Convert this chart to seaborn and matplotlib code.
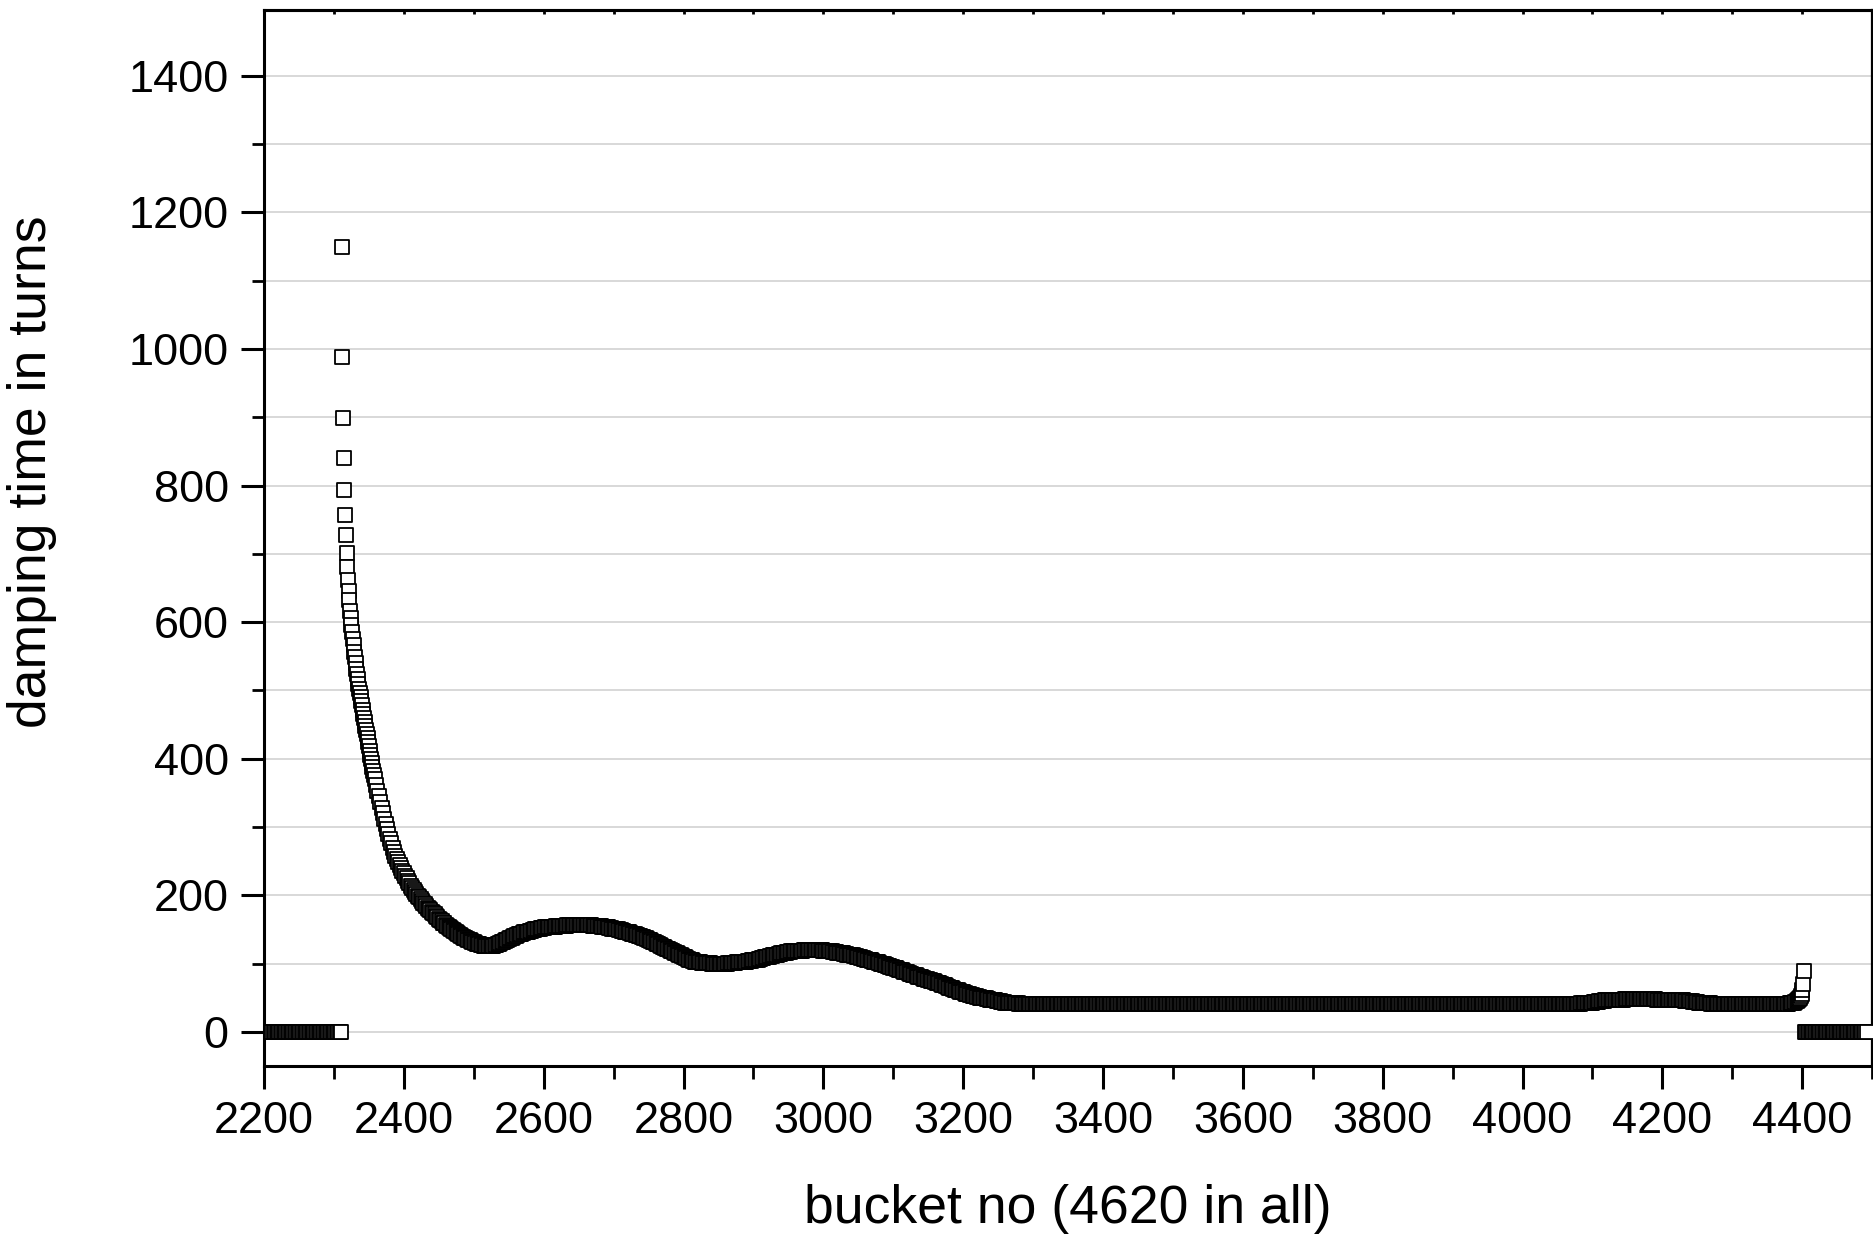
import matplotlib
matplotlib.use('Agg')
import matplotlib.pyplot as plt
from matplotlib.ticker import MultipleLocator
import pandas as pd
import seaborn as sns

# empty buckets before the train
zero_left_x = list(range(2200, 2311, 2))
zero_left_y = [0] * len(zero_left_x)

# head of the train, one value per bucket
spike_x = list(range(2311, 2359))
spike_y = [1150, 988, 899, 840, 794, 757, 727, 702, 681, 662,
           646, 632, 617, 606, 596, 585, 576, 566, 557, 549,
           540, 532, 524, 517, 509, 502, 496, 490, 484, 478,
           472, 466, 460, 454, 448, 442, 436, 430, 424, 418,
           412, 406, 400, 394, 388, 382, 376, 370]

# decay and wiggles, every 2nd bucket from 2360
decay_y = [362, 353, 345, 336, 328, 320, 312, 305, 297, 290,
           283, 277, 270, 264, 258, 253, 249, 244, 240, 236,
           232, 228, 225, 221, 218, 214, 211, 208, 205, 202,
           199, 197, 194, 192, 189, 187, 185, 182, 180, 178,
           176, 174, 172, 170, 168, 166, 164, 162, 160, 159,
           157, 155, 154, 152, 151, 149, 148, 146, 145, 143,
           142, 141, 139, 138, 137, 136, 135, 134, 133, 132,
           131, 130, 129, 129, 128, 127, 127, 126, 126, 126,
           126, 126, 126, 126, 126, 127, 127, 128, 129, 130,
           131, 132, 133, 134, 135, 136, 137, 138, 139, 140,
           141, 142, 143, 143, 144, 145, 146, 146, 147, 147,
           148, 148, 149, 149, 150, 150, 151, 151, 152, 152,
           152, 153, 153, 153, 153, 154, 154, 154, 154, 155,
           155, 155, 155, 155, 155, 155, 155, 156, 156, 156,
           156, 156, 156, 156, 156, 156, 156, 156, 156, 156,
           156, 156, 156, 156, 156, 155, 155, 155, 155, 155,
           155, 155, 154, 154, 154, 153, 153, 152, 152, 151,
           151, 151, 150, 150, 149, 149, 148, 148, 147, 147,
           146, 146, 145, 144, 144, 143, 142, 142, 141, 140,
           139, 139, 138, 137, 136, 135, 134, 133, 132, 131,
           130, 129, 128, 127, 126, 125, 124, 123, 122, 121,
           120, 119, 118, 117, 116, 115, 114, 113, 112, 111,
           110, 109, 108, 107, 106, 105, 105, 104, 103, 103,
           102, 102, 102, 101, 101, 101, 101, 101, 101, 101,
           100, 100, 100, 100, 100, 100, 100, 100, 100, 100,
           100, 100, 101, 101, 101, 101, 101, 101, 102, 102,
           102, 102, 103, 103, 103, 103, 104, 104, 104, 105,
           105, 105, 106, 106, 107, 107, 108, 108, 109, 109,
           110, 110, 111, 111, 112, 112, 113, 113, 114, 114,
           115, 115, 116, 116, 117, 117, 117, 118, 118, 118,
           118, 119, 119, 119, 119, 119, 120, 120, 120, 120,
           120, 120, 120, 120, 120, 120, 120, 120, 120, 120,
           119, 119, 119, 119, 118, 118, 118, 117, 117, 117,
           116, 116, 116, 115, 115, 114, 114, 113, 113, 112,
           112, 112, 111, 111, 110, 109, 109, 108, 108, 107,
           107, 106, 106, 105, 105, 104, 103, 103, 102, 102,
           101, 100, 100, 99, 98, 98, 97, 96, 95, 95,
           94, 93, 93, 92, 91, 91, 90, 89, 88, 88,
           87, 86, 85, 85, 84, 83, 83, 82, 81, 80,
           80, 79, 78, 78, 77, 76, 76, 75, 74, 74,
           73, 72, 71, 71, 70, 69, 68, 68, 67, 66,
           65, 64, 64, 63, 62, 61, 61, 60, 59, 58,
           58, 57, 56, 56, 55, 54, 54, 53, 52, 52,
           51, 51, 50, 50, 49, 49, 49, 48, 48, 47,
           47, 46, 46, 46, 45, 45, 45, 44, 44, 44,
           43, 43, 43, 43, 43, 42, 42, 42, 42, 42,
           41, 41, 41, 41, 41]
decay_x = list(range(2360, 2360 + 2 * len(decay_y), 2))

# long plateau
flat1_x = list(range(3290, 4080, 2))
flat1_y = [41] * len(flat1_x)

# small hump near 4180
hump_y = [41, 41, 42, 42, 42, 42, 43, 43, 43, 43,
          43, 44, 44, 44, 44, 45, 45, 45, 45, 46,
          46, 46, 46, 46, 47, 47, 47, 47, 47, 47,
          47, 47, 47, 48, 48, 48, 48, 48, 48, 48,
          48, 48, 48, 48, 48, 48, 48, 48, 48, 48,
          48, 48, 48, 48, 48, 48, 47, 47, 47, 47,
          47, 47, 47, 47, 47, 47, 46, 46, 46, 46,
          46, 46, 46, 46, 46, 46, 45, 45, 45, 45,
          45, 45, 44, 44, 44, 44, 43, 43, 43, 43,
          42, 42, 42, 42, 42, 41, 41, 41, 41, 41]
hump_x = list(range(4080, 4080 + 2 * len(hump_y), 2))

flat2_x = list(range(4280, 4380, 2))
flat2_y = [41] * len(flat2_x)

# tail of the train
rise_x = [4380, 4382, 4384, 4386, 4388, 4390, 4392, 4394, 4396, 4397,
          4398, 4399, 4400, 4401, 4402]
rise_y = [41, 42, 42, 43, 43, 44, 45, 46, 48, 50, 52, 56, 62, 70, 89]

# empty buckets after the train
zero_right_x = list(range(4404, 4493, 2))
zero_right_y = [0] * len(zero_right_x)

xs = (zero_left_x + spike_x + decay_x + flat1_x + hump_x + flat2_x
      + rise_x + zero_right_x)
ys = (zero_left_y + spike_y + decay_y + flat1_y + hump_y + flat2_y
      + rise_y + zero_right_y)
df = pd.DataFrame({'bucket': xs, 'tau': ys})

sns.set_style('ticks')
plt.rcParams['font.family'] = ['Liberation Sans', 'DejaVu Sans']
plt.rcParams['text.color'] = 'black'
plt.rcParams['axes.labelcolor'] = 'black'
plt.rcParams['xtick.color'] = 'black'
plt.rcParams['ytick.color'] = 'black'

fig = plt.figure(figsize=(18.74, 12.39), dpi=100)
ax = fig.add_axes([0.1409, 0.1396, 0.8581, 0.8526])

sns.scatterplot(data=df, x='bucket', y='tau', marker='s', s=88,
                linewidth=1.3, ax=ax, zorder=3, legend=False)
pts = ax.collections[0]
pts.set_facecolor('white')
pts.set_edgecolor('black')

ax.set_xlim(2200, 4500)
ax.set_ylim(-50, 1497)
ax.xaxis.set_major_locator(MultipleLocator(200))
ax.xaxis.set_minor_locator(MultipleLocator(100))
ax.yaxis.set_major_locator(MultipleLocator(200))
ax.yaxis.set_minor_locator(MultipleLocator(100))

ax.set_axisbelow(True)
ax.yaxis.grid(True, which='both', color='#d2d2d2', linewidth=1.2)
ax.xaxis.grid(False)

for sp in ax.spines.values():
    sp.set_linewidth(2.2)
    sp.set_color('black')
ax.spines['right'].set_linewidth(1.6)

ax.tick_params(which='major', direction='out', length=16.5, width=2.2,
               labelsize=32.5, pad=9, color='black', labelcolor='black')
ax.tick_params(which='minor', direction='out', length=9, width=2.0,
               color='black')

top = ax.secondary_xaxis('top')
top.xaxis.set_major_locator(MultipleLocator(100))
top.tick_params(direction='in', length=3, width=2, labeltop=False)
top.spines['top'].set_linewidth(2.2)

ax.set_xlabel('bucket no (4620 in all)', fontsize=38.5, labelpad=30)
ax.set_ylabel('damping time in turns', fontsize=38.5)
ax.yaxis.set_label_coords(-0.129, 0.5625)

fig.savefig('out.png', dpi=100)
